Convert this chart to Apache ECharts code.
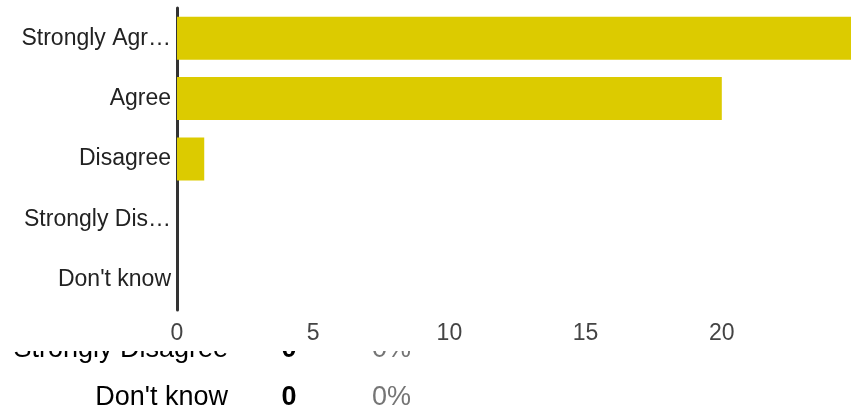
<!DOCTYPE html>
<html>
<head>
<meta charset="utf-8">
<script src="https://cdn.jsdelivr.net/npm/echarts@6/dist/echarts.min.js"></script>
<style>
html,body{margin:0;padding:0;background:#fff;}
#main{width:851px;height:414px;}
</style>
</head>
<body>
<div id="main"></div>
<script>
var categories = ['Strongly Agree', 'Agree', 'Disagree', 'Strongly Disagree', "Don't know"];
var counts = [25, 20, 1, 0, 0];
var tableRows = ['Strongly Disagree', "Don't know"];
var tableCounts = [0, 0];
var tablePercents = ['0%', '0%'];
var xTicks = [0, 5, 10, 15, 20, 25];

var chart = echarts.init(document.getElementById('main'));
var font = '"Liberation Sans", Arial, sans-serif';

var graphics = [
  {type: 'rect', z: 5, silent: true, shape: {x: 0, y: 0, width: 851, height: 351}, style: {fill: '#fff'}}
];
var rowY = [350, 398];
tableRows.forEach(function (name, i) {
  graphics.push({type: 'text', z: 1, x: 228, y: rowY[i], style: {text: name, font: '27px ' + font, fill: '#000', align: 'right', verticalAlign: 'middle'}});
  graphics.push({type: 'text', z: 1, x: 289, y: rowY[i], style: {text: String(tableCounts[i]), font: 'bold 27px ' + font, fill: '#000', align: 'center', verticalAlign: 'middle'}});
  graphics.push({type: 'text', z: 1, x: 372, y: rowY[i], style: {text: tablePercents[i], font: '27px ' + font, fill: '#757575', align: 'left', verticalAlign: 'middle'}});
});

chart.setOption({
  animation: false,
  backgroundColor: 'transparent',
  grid: {left: 177, width: 681, top: 8, height: 302, containLabel: false, outerBoundsMode: 'none'},
  xAxis: {
    type: 'value', min: 0, max: xTicks[xTicks.length - 1], interval: 5, z: 10,
    axisLine: {show: false}, axisTick: {show: false}, splitLine: {show: false},
    axisLabel: {showMaxLabel: false, color: '#444', fontSize: 23, fontFamily: font, margin: 12}
  },
  yAxis: {
    type: 'category', data: categories, inverse: true, z: 10,
    axisLine: {show: true, lineStyle: {color: '#333', width: 3}},
    axisTick: {show: false},
    axisLabel: {
      color: '#222', fontSize: 23, fontFamily: font, margin: 6,
      formatter: function (v) { return v.length > 13 ? v.slice(0, 12) + '…' : v; }
    }
  },
  series: [{
    type: 'bar', data: counts, barWidth: 43, z: 10,
    itemStyle: {color: '#dccb00'}
  }],
  graphic: graphics
});
</script>
</body>
</html>
